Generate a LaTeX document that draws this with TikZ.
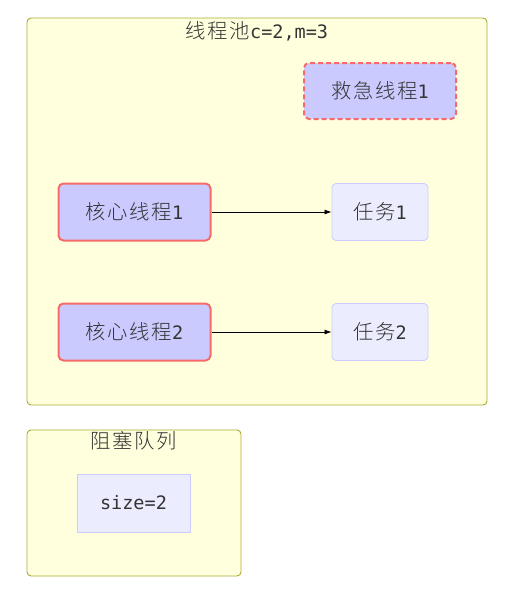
\documentclass[tikz,border=0pt]{standalone}
\usepackage{fontspec}
\setmainfont{DejaVu Sans Mono}
\newfontfamily\cjk[Scale=1.1,LetterSpace=8]{Noto Sans CJK SC Light}
\usepackage{tikz}
\usetikzlibrary{arrows.meta,positioning}

\definecolor{clusterfill}{HTML}{FFFFDE}
\definecolor{clusterline}{HTML}{AAAA33}
\definecolor{nodefill}{HTML}{ECECFF}
\definecolor{nodeline}{HTML}{CCCCFF}
\definecolor{threadfill}{HTML}{CACAFF}
\definecolor{threadline}{HTML}{F76A6A}
\definecolor{txt}{HTML}{333333}

\tikzset{
  label font/.style={text=txt,font=\fontsize{18.5}{20}\selectfont},
  cluster/.style={fill=clusterfill,draw=clusterline,line width=0.9pt,rounded corners=4pt},
  taskbox/.style={fill=nodefill,draw=nodeline,line width=0.9pt,rounded corners=4pt,
    minimum width=96pt,minimum height=57pt,label font},
  corebox/.style={fill=threadfill,draw=threadline,line width=2pt,rounded corners=5pt,
    minimum width=152pt,minimum height=57pt,label font},
  sparebox/.style={corebox,dashed,dash pattern=on 5pt off 3pt},
  flow/.style={-{Latex[length=7pt,width=5pt]},line width=0.8pt,black}
}

\begin{document}
\begin{tikzpicture}[x=1pt,y=-1pt]
  \useasboundingbox (0,0) rectangle (516,589);
  \fill[white] (0,0) rectangle (516,589);

  % thread pool
  \draw[cluster] (27,18) rectangle (487,405);
  \node[label font] (pooltitle) at (257,31) {{\cjk 线程池}c=2,m=3};

  % spare thread
  \node[sparebox,minimum width=152pt,minimum height=56pt] (spare1) at (380,91) {{\cjk 救急线程}1};

  % core threads and tasks
  \node[corebox] (core1) at (134.5,212) {{\cjk 核心线程}1};
  \node[taskbox] (task1) at (380,212) {{\cjk 任务}1};
  \node[corebox] (core2) at (134.5,332) {{\cjk 核心线程}2};
  \node[taskbox] (task2) at (380,332) {{\cjk 任务}2};

  \draw[flow] (core1) -- (task1);
  \draw[flow] (core2) -- (task2);

  % blocking queue
  \draw[cluster] (27,430) rectangle (241,576);
  \node[label font] (queuetitle) at (134,441) {\cjk 阻塞队列};
  \node[taskbox,rounded corners=0pt,minimum width=113pt,minimum height=58pt] (size) at (133.5,503) {size=2};
\end{tikzpicture}
\end{document}
